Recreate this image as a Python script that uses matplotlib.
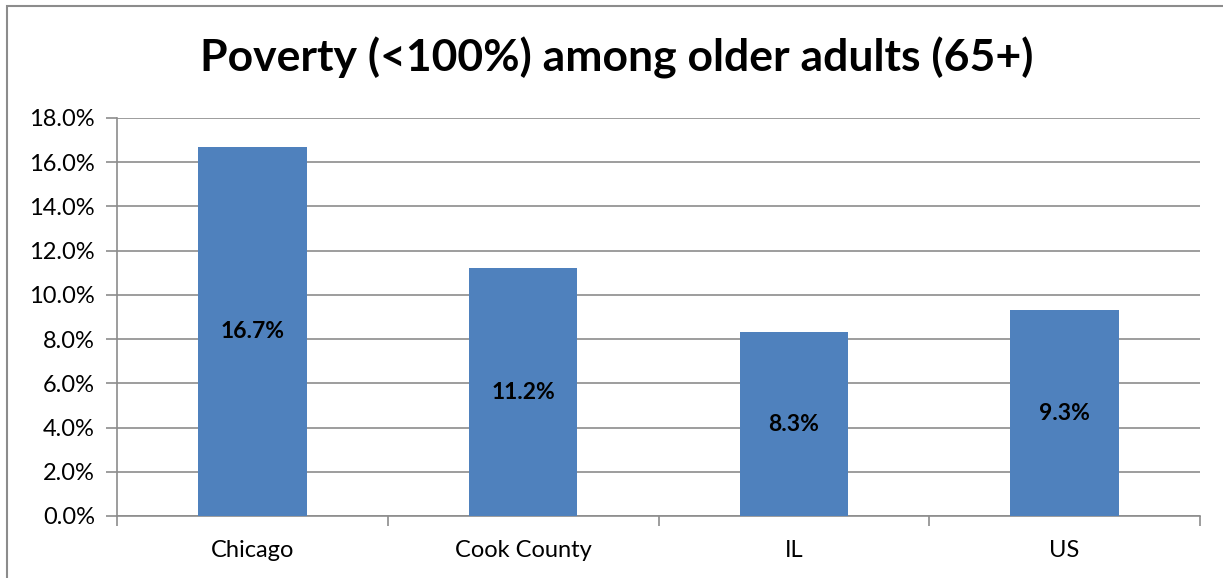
import matplotlib.pyplot as plt
from matplotlib.patches import Rectangle
from matplotlib.ticker import FuncFormatter, MultipleLocator

plt.rcParams['font.family'] = ['Lato', 'DejaVu Sans']

categories = ["Chicago", "Cook County", "IL", "US"]
values = [16.7, 11.2, 8.3, 9.3]
title = "Poverty (<100%) among older adults (65+)"

W, H = 1223, 578
fig = plt.figure(figsize=(W / 100, H / 100), dpi=100)
ax = fig.add_axes([117 / W, 1 - 516 / H, (1200 - 117) / W, (516 - 118) / H])

# rand runt diagrammet (högra och nedre kanten utanför bilden)
fig.patches.append(Rectangle((7 / W, -0.1), 1.2, 1 - 6 / H + 0.1,
                             transform=fig.transFigure, fill=False,
                             edgecolor="#8c8c8c", linewidth=1.5))

x = list(range(len(categories)))
bars = ax.bar(x, values, width=0.4, color="#4f81bd", zorder=3)
for xi, v in zip(x, values):
    ax.text(xi, v / 2, f"{v:.1f}%", ha="center", va="center",
            fontsize=16.5, fontweight="bold", color="black", zorder=4)

ax.set_xlim(-0.5, len(categories) - 0.5)
ax.set_ylim(0, 18)
ax.yaxis.set_major_locator(MultipleLocator(2))
ax.yaxis.set_major_formatter(FuncFormatter(lambda v, p: f"{v:.1f}%"))
ax.grid(True, axis="y", color="#8c8c8c", linewidth=1.2, zorder=0)
ax.set_axisbelow(True)

ax.set_xticks(x)
ax.set_xticklabels(categories)
ax.set_xticks([i - 0.5 for i in range(len(categories) + 1)], minor=True)
ax.tick_params(axis="x", which="major", length=0, pad=17, labelsize=17)
ax.tick_params(axis="x", which="minor", length=7, color="#8c8c8c", width=1.2)
ax.tick_params(axis="y", length=8, color="#8c8c8c", width=1.2, labelsize=17, pad=8)

for s in ["top", "right"]:
    ax.spines[s].set_visible(False)
for s in ["left", "bottom"]:
    ax.spines[s].set_color("#8c8c8c")
    ax.spines[s].set_linewidth(1.2)

fig.text(617 / W, 1 - 58 / H, title, ha="center", va="center",
         fontsize=32, fontweight="bold")

fig.savefig("out.png", dpi=100)
